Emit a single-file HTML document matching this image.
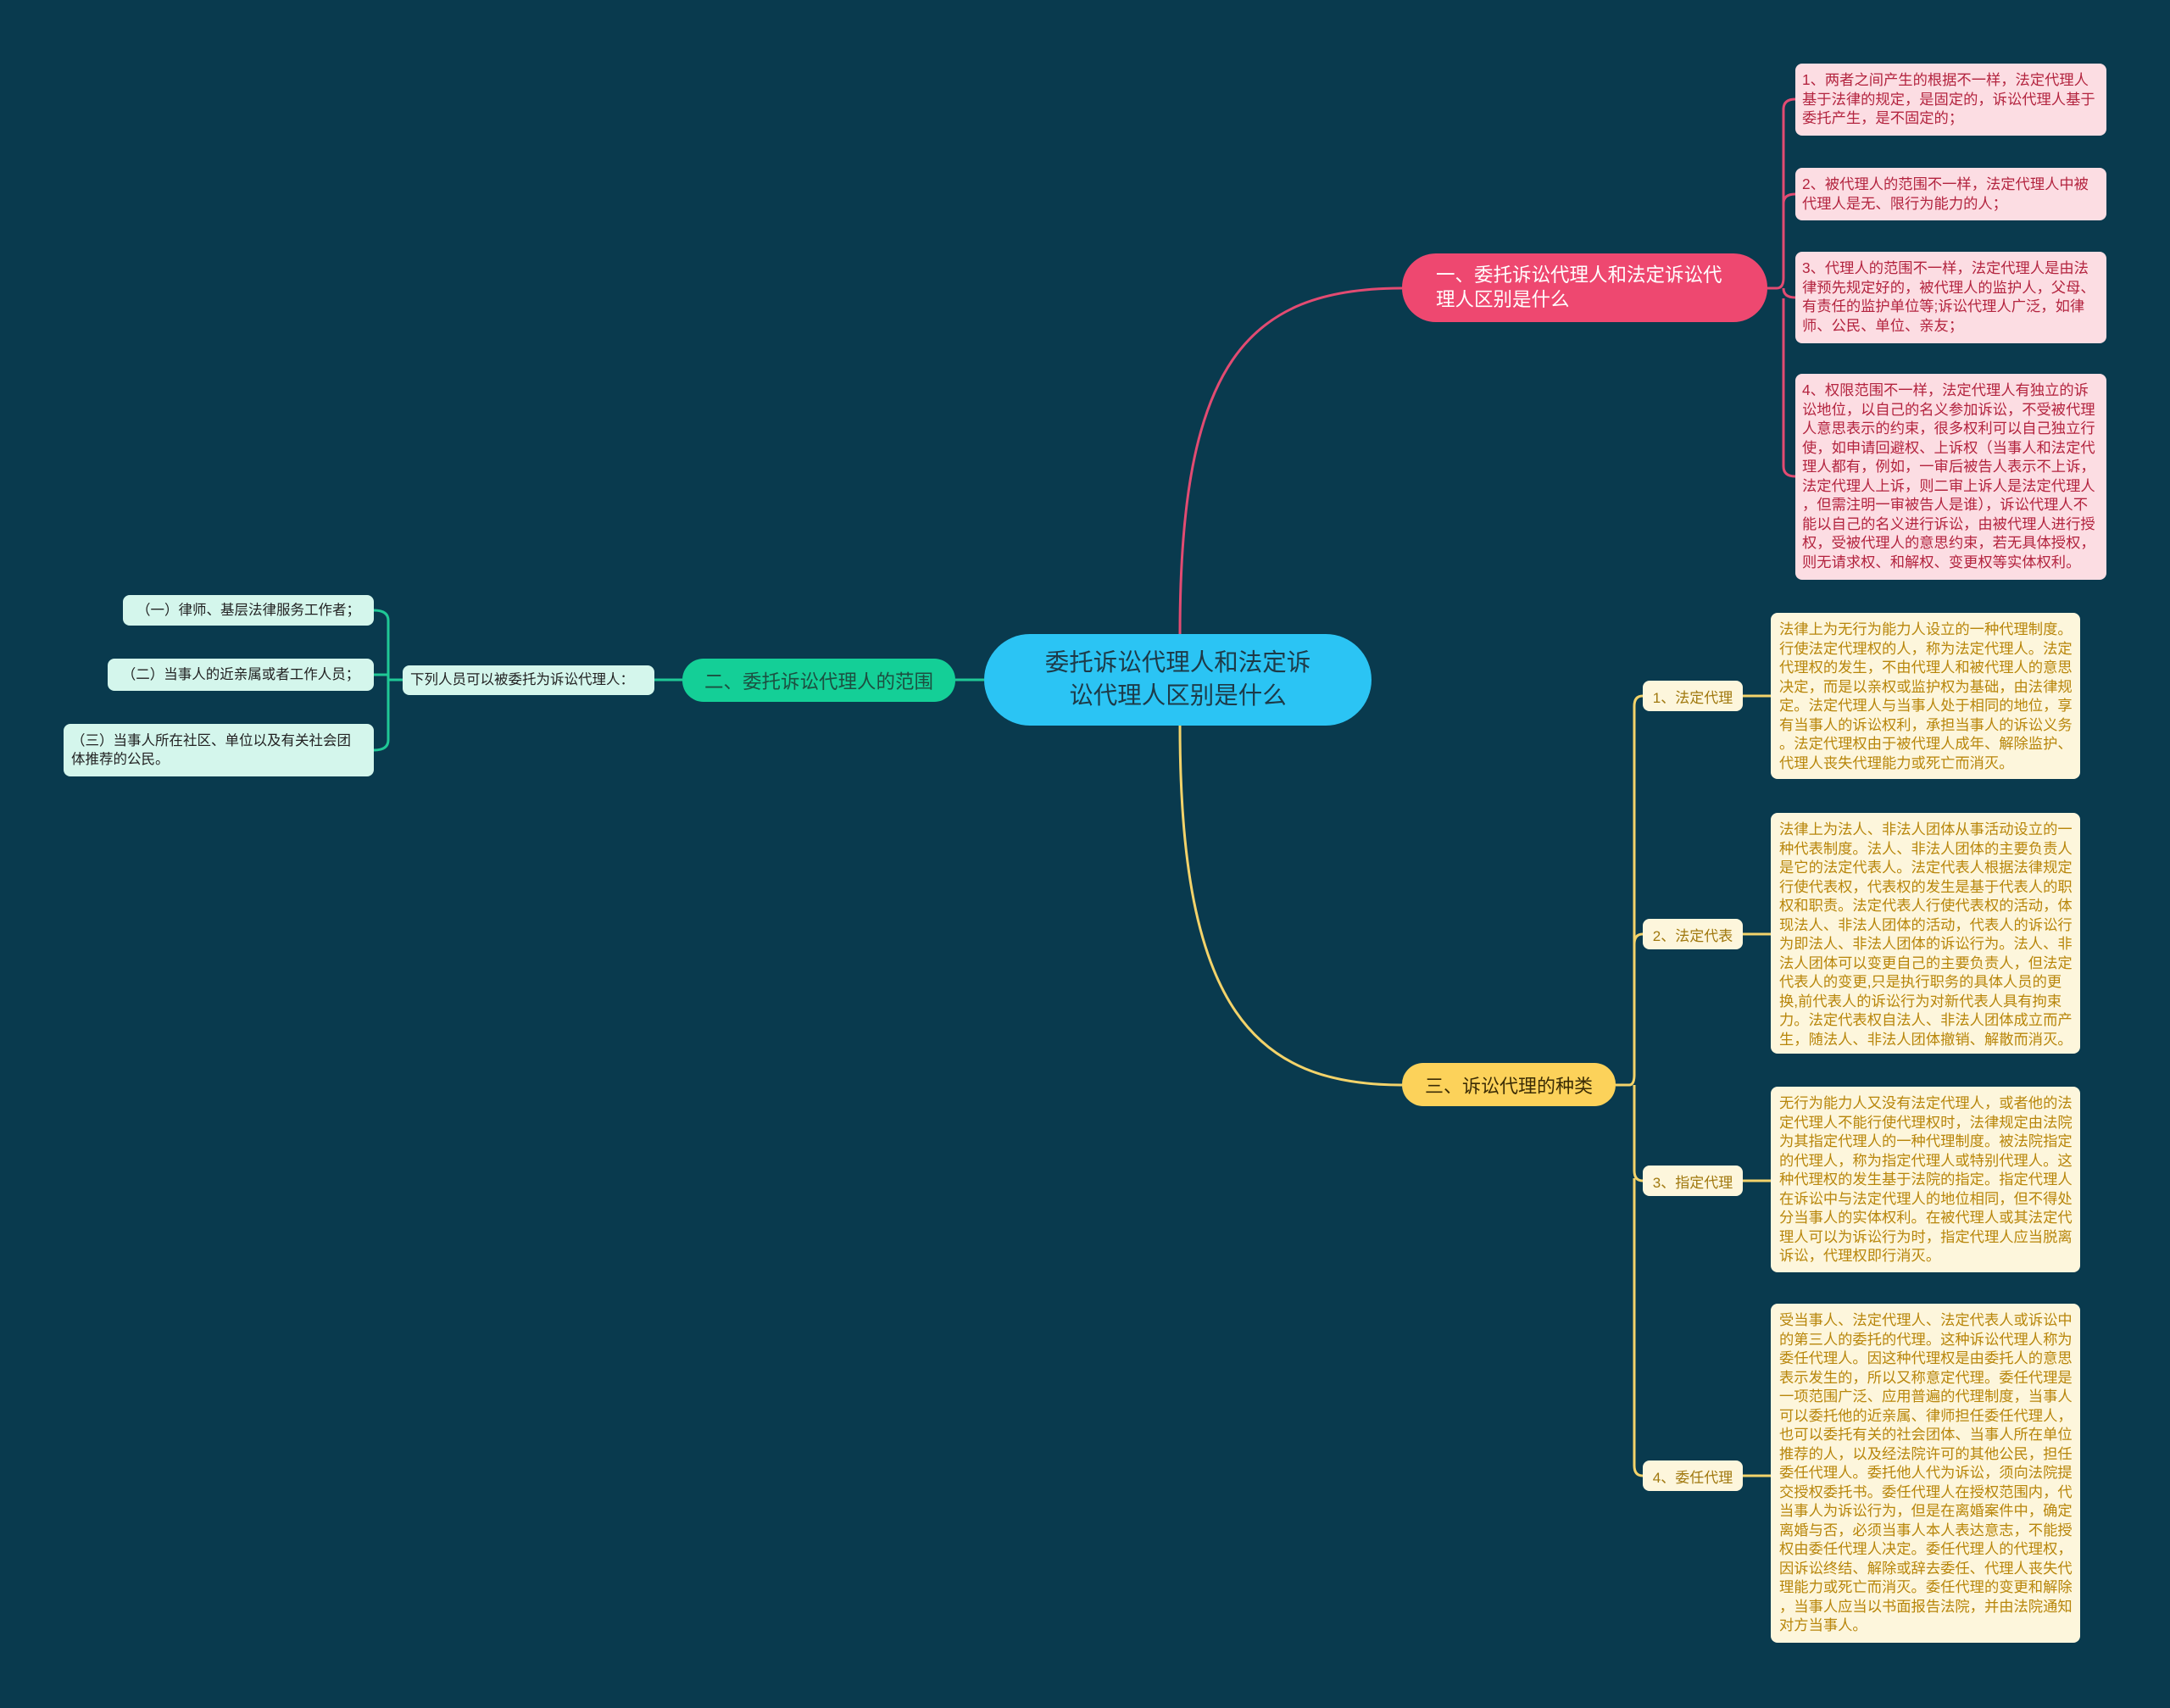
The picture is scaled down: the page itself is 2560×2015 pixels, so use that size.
<!DOCTYPE html>
<html><head><meta charset="utf-8"><style>
body{margin:0;width:2560px;height:2015px;background:#093a4e;position:relative;overflow:hidden;font-family:"Liberation Sans","Noto Sans CJK SC",sans-serif}
.n{position:absolute;box-sizing:border-box;white-space:nowrap}
.pk{background:#fcdde3;color:#b3243f;border-radius:8px;font-size:17.3px;line-height:22.5px;padding:8px 8px}
.yl{background:#fdf6dc;color:#b8860b;border-radius:8px;font-size:17.3px;line-height:22.5px;padding:8px 10px}
.ys{background:#fdf6dc;color:#a0780e;border-radius:8px;font-size:17px;display:flex;align-items:center;justify-content:center}
.gl{background:#d4f6ec;color:#222;border-radius:8px;font-size:16.5px;line-height:22.5px;display:flex;align-items:center;padding:0 9px}
</style></head><body>
<svg width="2560" height="2015" style="position:absolute;left:0;top:0" fill="none">
<path d="M1392,748 C1392,430 1470,340 1654,340" stroke="#e24b72" stroke-width="3"/>
<path d="M2085,340 H2096 M2096,340 Q2104,340 2104,328 V129 Q2104,117 2118,117 M2104,240 Q2104,229 2118,229 M2104,340 Q2104,351 2118,351 M2104,352 V550 Q2104,562 2118,562" stroke="#e24b72" stroke-width="3"/>
<path d="M1392,856 C1392,1190 1480,1280 1654,1280" stroke="#f3d36a" stroke-width="3"/>
<path d="M1906,1280 H1922 M1922,1280 Q1928,1280 1928,1268 V833 Q1928,821 1938,821 M1928,1114 Q1928,1102 1938,1102 M1928,1280 Q1928,1293 1928,1300 V1381 Q1928,1393 1938,1393 M1928,1390 V1729 Q1928,1741 1938,1741" stroke="#f3d36a" stroke-width="3"/>
<path d="M2056,821 H2089 M2056,1102 H2089 M2056,1393 H2089 M2056,1741 H2089" stroke="#f3d36a" stroke-width="3"/>
<path d="M1127,802 H1161 M772,802 H805" stroke="#1fc896" stroke-width="3"/>
<path d="M475,802 H458 M458,802 V732 Q458,720 441,720 M458,802 V796 H441 M458,802 V873 Q458,885 441,885" stroke="#1fc896" stroke-width="3"/>
</svg>
<div class="n" style="left:1161px;top:748px;width:457px;height:108px;background:#2bc4f4;border-radius:54px;color:#1d3a48;font-size:28.5px;line-height:39px;text-align:center;padding-top:15px">委托诉讼代理人和法定诉<br>讼代理人区别是什么</div>
<div class="n" style="left:1654px;top:299px;width:431px;height:81px;background:#ee4870;border-radius:40px;color:#fff;font-size:22.5px;line-height:29px;padding:11px 0 0 40px">一、委托诉讼代理人和法定诉讼代<br>理人区别是什么</div>
<div class="n" style="left:805px;top:777px;width:322px;height:51px;background:#14cf97;border-radius:25px;color:#1c4f40;font-size:22.5px;display:flex;align-items:center;justify-content:center">二、委托诉讼代理人的范围</div>
<div class="n" style="left:1654px;top:1254px;width:252px;height:51px;background:#fcd25a;border-radius:25px;color:#3b2c05;font-size:22px;display:flex;align-items:center;justify-content:center">三、诉讼代理的种类</div>

<div class="n pk" style="left:2118px;top:75px;width:367px;height:85px">1、两者之间产生的根据不一样，法定代理人<br>基于法律的规定，是固定的，诉讼代理人基于<br>委托产生，是不固定的；</div>
<div class="n pk" style="left:2118px;top:198px;width:367px;height:62px">2、被代理人的范围不一样，法定代理人中被<br>代理人是无、限行为能力的人；</div>
<div class="n pk" style="left:2118px;top:297px;width:367px;height:108px">3、代理人的范围不一样，法定代理人是由法<br>律预先规定好的，被代理人的监护人，父母、<br>有责任的监护单位等;诉讼代理人广泛，如律<br>师、公民、单位、亲友；</div>
<div class="n pk" style="left:2118px;top:441px;width:367px;height:243px">4、权限范围不一样，法定代理人有独立的诉<br>讼地位，以自己的名义参加诉讼，不受被代理<br>人意思表示的约束，很多权利可以自己独立行<br>使，如申请回避权、上诉权（当事人和法定代<br>理人都有，例如，一审后被告人表示不上诉，<br>法定代理人上诉，则二审上诉人是法定代理人<br>，但需注明一审被告人是谁），诉讼代理人不<br>能以自己的名义进行诉讼，由被代理人进行授<br>权，受被代理人的意思约束，若无具体授权，<br>则无请求权、和解权、变更权等实体权利。</div>

<div class="n ys" style="left:1938px;top:803px;width:118px;height:36px">1、法定代理</div>
<div class="n ys" style="left:1938px;top:1084px;width:118px;height:36px">2、法定代表</div>
<div class="n ys" style="left:1938px;top:1375px;width:118px;height:36px">3、指定代理</div>
<div class="n ys" style="left:1938px;top:1723px;width:118px;height:36px">4、委任代理</div>

<div class="n yl" style="left:2089px;top:723px;width:365px;height:196px">法律上为无行为能力人设立的一种代理制度。<br>行使法定代理权的人，称为法定代理人。法定<br>代理权的发生，不由代理人和被代理人的意思<br>决定，而是以亲权或监护权为基础，由法律规<br>定。法定代理人与当事人处于相同的地位，享<br>有当事人的诉讼权利，承担当事人的诉讼义务<br>。法定代理权由于被代理人成年、解除监护、<br>代理人丧失代理能力或死亡而消灭。</div>
<div class="n yl" style="left:2089px;top:959px;width:365px;height:284px">法律上为法人、非法人团体从事活动设立的一<br>种代表制度。法人、非法人团体的主要负责人<br>是它的法定代表人。法定代表人根据法律规定<br>行使代表权，代表权的发生是基于代表人的职<br>权和职责。法定代表人行使代表权的活动，体<br>现法人、非法人团体的活动，代表人的诉讼行<br>为即法人、非法人团体的诉讼行为。法人、非<br>法人团体可以变更自己的主要负责人，但法定<br>代表人的变更,只是执行职务的具体人员的更<br>换,前代表人的诉讼行为对新代表人具有拘束<br>力。法定代表权自法人、非法人团体成立而产<br>生，随法人、非法人团体撤销、解散而消灭。</div>
<div class="n yl" style="left:2089px;top:1282px;width:365px;height:219px">无行为能力人又没有法定代理人，或者他的法<br>定代理人不能行使代理权时，法律规定由法院<br>为其指定代理人的一种代理制度。被法院指定<br>的代理人，称为指定代理人或特别代理人。这<br>种代理权的发生基于法院的指定。指定代理人<br>在诉讼中与法定代理人的地位相同，但不得处<br>分当事人的实体权利。在被代理人或其法定代<br>理人可以为诉讼行为时，指定代理人应当脱离<br>诉讼，代理权即行消灭。</div>
<div class="n yl" style="left:2089px;top:1538px;width:365px;height:400px">受当事人、法定代理人、法定代表人或诉讼中<br>的第三人的委托的代理。这种诉讼代理人称为<br>委任代理人。因这种代理权是由委托人的意思<br>表示发生的，所以又称意定代理。委任代理是<br>一项范围广泛、应用普遍的代理制度，当事人<br>可以委托他的近亲属、律师担任委任代理人，<br>也可以委托有关的社会团体、当事人所在单位<br>推荐的人，以及经法院许可的其他公民，担任<br>委任代理人。委托他人代为诉讼，须向法院提<br>交授权委托书。委任代理人在授权范围内，代<br>当事人为诉讼行为，但是在离婚案件中，确定<br>离婚与否，必须当事人本人表达意志，不能授<br>权由委任代理人决定。委任代理人的代理权，<br>因诉讼终结、解除或辞去委任、代理人丧失代<br>理能力或死亡而消灭。委任代理的变更和解除<br>，当事人应当以书面报告法院，并由法院通知<br>对方当事人。</div>

<div class="n gl" style="left:475px;top:785px;width:297px;height:35px">下列人员可以被委托为诉讼代理人：</div>
<div class="n gl" style="left:145px;top:702px;width:296px;height:36px;justify-content:center">（一）律师、基层法律服务工作者；</div>
<div class="n gl" style="left:127px;top:777px;width:314px;height:38px;justify-content:center">（二）当事人的近亲属或者工作人员；</div>
<div class="n gl" style="left:75px;top:854px;width:366px;height:62px">（三）当事人所在社区、单位以及有关社会团<br>体推荐的公民。</div>
</body></html>
